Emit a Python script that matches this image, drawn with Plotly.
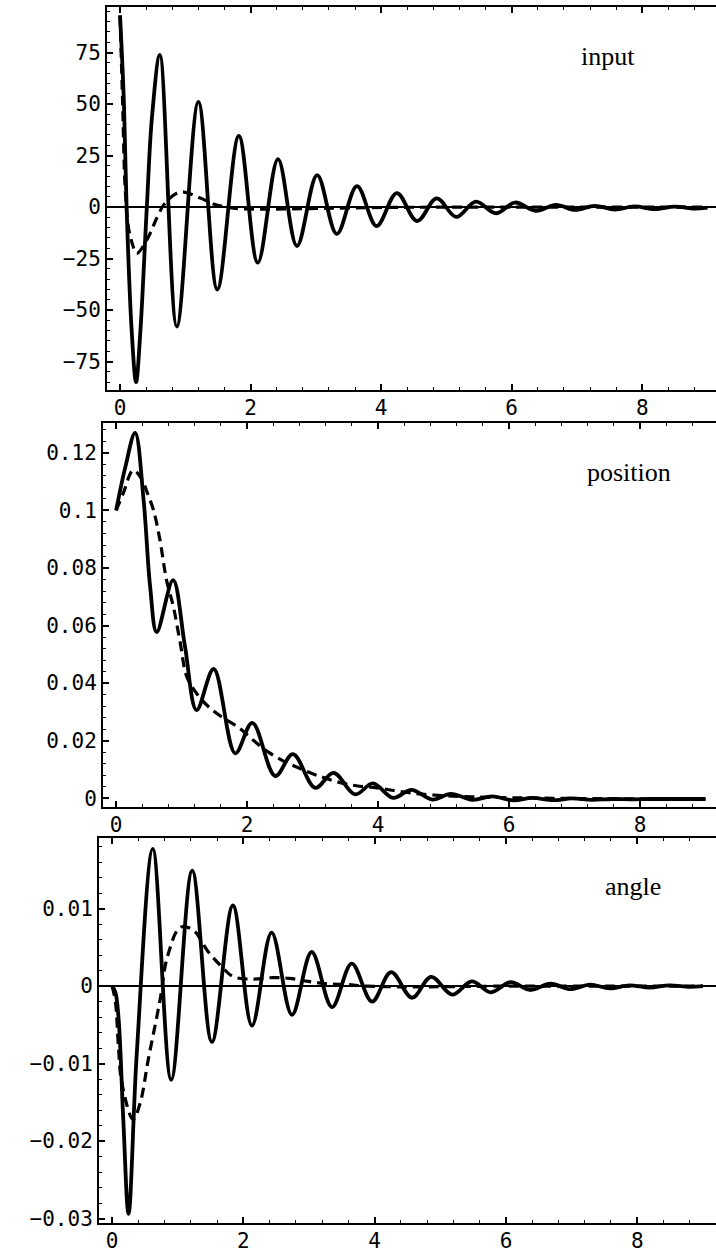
import plotly.graph_objects as go

# ---------------- data ----------------
# Panel 1: input
input_solid_t = [0, 0.06, 0.10, 0.18, 0.245, 0.31, 0.41, 0.49, 0.61, 0.87, 1.20, 1.49, 1.82,
                 2.11, 2.42, 2.71, 3.02, 3.32, 3.63, 3.93, 4.24, 4.55, 4.85, 5.15, 5.45,
                 5.76, 6.05, 6.37, 6.68, 6.97, 7.27, 7.58, 7.88, 8.19, 8.50, 8.80, 9.0]
input_solid_v = [93, 50, 0, -61, -85, -61, 0, 44, 73.8, -58, 51, -40, 34.5,
                 -27, 23.3, -18.9, 15.5, -13, 10.2, -9.2, 6.8, -6.8, 4.2, -4.8, 2.6,
                 -3.0, 2.2, -1.8, 1.1, -1.4, 0.6, -1.2, 0.3, -1.0, 0.2, -0.8, -0.3]
input_dash_t = [0, 0.04, 0.077, 0.127, 0.19, 0.255, 0.41, 0.57, 0.69, 0.92, 1.23, 1.43, 1.73,
                2.2, 2.8, 3.5, 4.5, 6.0, 7.5, 9.0]
input_dash_v = [93, 50, 10, -9.5, -18, -22.5, -16, -4.8, 1.9, 7.3, 4.4, 1.5, -0.5,
                -1.0, -0.8, -0.4, -0.1, 0, 0, 0]

# Panel 2: position
pos_solid_t = [0, 0.14, 0.29, 0.42, 0.52, 0.62, 0.87, 1.05, 1.23, 1.49, 1.82, 2.08, 2.43,
               2.70, 3.04, 3.32, 3.65, 3.92, 4.23, 4.51, 4.83, 5.11, 5.44, 5.74, 6.07,
               6.35, 6.68, 6.96, 7.26, 7.57, 7.87, 8.2, 8.5, 9.0]
pos_solid_v = [0.1, 0.115, 0.127, 0.1036, 0.0735, 0.0577, 0.0758, 0.053, 0.0306, 0.0449,
               0.0156, 0.0262, 0.0077, 0.0153, 0.0036, 0.0088, 0.0013, 0.0051, 0.0001,
               0.0029, -0.0005, 0.0015, -0.0006, 0.0006, -0.0008, 0.0001, -0.0007,
               -0.0001, -0.0006, -0.0003, -0.0004, -0.0003, -0.0003, -0.0003]
pos_dash_t = [0, 0.11, 0.26, 0.39, 0.47, 0.57, 0.67, 0.77, 0.875, 0.98, 1.08, 1.23, 1.41,
              1.61, 1.89, 2.09, 2.32, 2.58, 2.81, 3.06, 3.37, 3.67, 3.98, 4.28, 4.59,
              4.84, 5.5, 6.5, 7.5, 9.0]
pos_dash_v = [0.1, 0.106, 0.114, 0.111, 0.1065, 0.1002, 0.0897, 0.0758, 0.0665, 0.0539,
              0.0422, 0.0364, 0.0318, 0.0283, 0.0242, 0.0202, 0.0161, 0.0126, 0.0103,
              0.008, 0.0057, 0.0043, 0.0036, 0.0025, 0.0016, 0.0011, 0.0004, 0.0,
              -0.0002, -0.0003]

# Panel 3: angle
ang_solid_t = [0, 0.05, 0.10, 0.17, 0.25, 0.376, 0.62, 0.90, 1.22, 1.52, 1.84, 2.13, 2.43,
               2.74, 3.04, 3.35, 3.65, 3.96, 4.25, 4.57, 4.86, 5.18, 5.48, 5.77, 6.07,
               6.37, 6.68, 6.98, 7.28, 7.58, 7.88, 8.19, 8.49, 8.80, 9.0]
ang_solid_v = [0, -0.0008, -0.0044, -0.0172, -0.0294, -0.0086, 0.0177, -0.0121, 0.0149,
               -0.0072, 0.0104, -0.0051, 0.0069, -0.0037, 0.0044, -0.0027, 0.0029, -0.002,
               0.0018, -0.0015, 0.0012, -0.0011, 0.0006, -0.0008, 0.0005, -0.0005, 0.0003,
               -0.0004, 0.0002, -0.0003, 0.0001, -0.0002, 0.0001, -0.0001, 0.0]
ang_dash_t = [0, 0.05, 0.096, 0.148, 0.32, 0.43, 0.55, 0.73, 0.84, 1.04, 1.24, 1.45, 1.67,
              1.85, 2.15, 2.45, 2.7, 2.99, 3.27, 3.58, 3.88, 4.5, 6.0, 7.5, 9.0]
ang_dash_v = [0, -0.002, -0.0078, -0.0125, -0.0172, -0.015, -0.0095, -0.0018, 0.0037,
              0.0076, 0.0072, 0.0046, 0.0025, 0.0012, 0.0009, 0.0011, 0.001, 0.0006,
              0.0003, 0.0002, 0.0, -0.0001, 0, 0, 0]

# ticks
x_ticks = [0, 2, 4, 6, 8]
x_ticktext = ["0", "2", "4", "6", "8"]
input_ticks = [-75, -50, -25, 0, 25, 50, 75]
input_ticktext = ["\u221275", "\u221250", "\u221225", "0", "25", "50", "75"]
pos_ticks = [0, 0.02, 0.04, 0.06, 0.08, 0.1, 0.12]
pos_ticktext = ["0", "0.02", "0.04", "0.06", "0.08", "0.1", "0.12"]
ang_ticks = [-0.03, -0.02, -0.01, 0, 0.01]
ang_ticktext = ["\u22120.03", "\u22120.02", "\u22120.01", "0", "0.01"]
panel_labels = ["input", "position", "angle"]

# ---------------- figure ----------------
W, H = 716, 1255
KY = 1.0065  # small vertical correction observed in the rendered page


def fx(px):
    return min(1.0, max(0.0, px / W))


def fy(py):
    return min(1.0, max(0.0, 1 - py * KY / H))


fig = go.Figure()

panels = [
    (input_solid_t, input_solid_v, input_dash_t, input_dash_v, "x", "y"),
    (pos_solid_t, pos_solid_v, pos_dash_t, pos_dash_v, "x2", "y2"),
    (ang_solid_t, ang_solid_v, ang_dash_t, ang_dash_v, "x3", "y3"),
]
for st, sv, dt, dv, xa, ya in panels:
    fig.add_trace(go.Scatter(x=dt, y=dv, mode="lines", xaxis=xa, yaxis=ya,
                             line=dict(color="black", width=3.2, dash="10px,6px",
                                       shape="spline", smoothing=1),
                             showlegend=False, hoverinfo="skip"))
    fig.add_trace(go.Scatter(x=st, y=sv, mode="lines", xaxis=xa, yaxis=ya,
                             line=dict(color="black", width=3.8, shape="spline", smoothing=1),
                             showlegend=False, hoverinfo="skip"))

tick_font = dict(family="DejaVu Sans Mono", size=21, color="black")


def xaxis(left_px, rng, anchor):
    return dict(domain=[fx(left_px), 1.0], range=rng, anchor=anchor,
                tickmode="array", tickvals=x_ticks, ticktext=x_ticktext,
                ticks="inside", ticklen=6, tickwidth=1.5, tickcolor="black",
                minor=dict(tickmode="linear", tick0=0, dtick=0.4, ticks="inside",
                           ticklen=3, tickwidth=1, tickcolor="black"),
                showline=True, linecolor="black", linewidth=2, mirror="allticks",
                showgrid=False, zeroline=False, tickfont=tick_font,
                ticklabelstandoff=-2)


def yaxis(top_px, bot_px, rng, anchor, tv, tt, mdt, zl):
    return dict(domain=[fy(bot_px), fy(top_px)], range=rng, anchor=anchor,
                tickmode="array", tickvals=tv, ticktext=tt,
                ticks="inside", ticklen=6, tickwidth=1.5, tickcolor="black",
                minor=dict(tickmode="linear", tick0=0, dtick=mdt, ticks="inside",
                           ticklen=3, tickwidth=1, tickcolor="black"),
                showline=True, linecolor="black", linewidth=2, mirror=False,
                showgrid=False, zeroline=zl, zerolinecolor="black", zerolinewidth=1.5,
                tickfont=tick_font, ticklabelstandoff=0)


fig.update_layout(
    width=W, height=H, margin=dict(l=0, r=0, t=0, b=0, pad=0),
    paper_bgcolor="white", plot_bgcolor="white",
    xaxis=xaxis(107, [-0.2, 9.13], "y"),
    xaxis2=xaxis(103, [-0.2, 9.16], "y2"),
    xaxis3=xaxis(99, [-0.2, 9.2], "y3"),
    yaxis=yaxis(7, 390, [-88.8, 97.1], "x", input_ticks, input_ticktext, 5, True),
    yaxis2=yaxis(423, 807, [-0.0031, 0.1304], "x2", pos_ticks, pos_ticktext, 0.004, False),
    yaxis3=yaxis(838, 1223, [-0.03058, 0.0191], "x3", ang_ticks, ang_ticktext, 0.002, True),
)

label_pos = [(608, 56), (629, 472), (633, 886)]
for txt, (px, py) in zip(panel_labels, label_pos):
    fig.add_annotation(text=txt, xref="paper", yref="paper", x=fx(px), y=fy(py),
                       xanchor="center", yanchor="middle", showarrow=False,
                       font=dict(family="Liberation Serif", size=26, color="black"))

fig.write_html("out.html", config={"displayModeBar": False},
               post_script="document.body.style.margin='0';document.body.style.overflow='hidden';")
